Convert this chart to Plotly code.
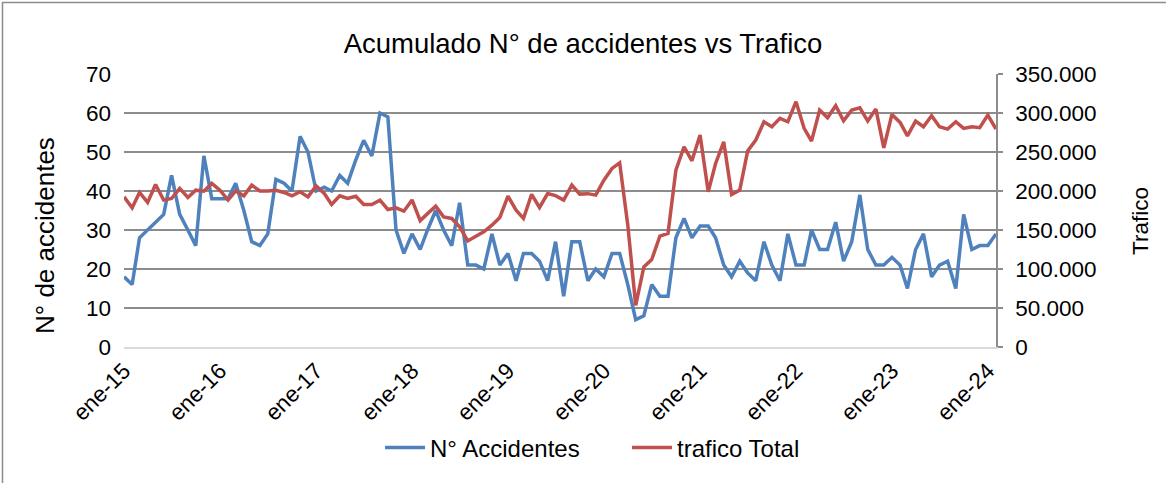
import plotly.graph_objects as go
import pandas as pd

# Monthly series, January 2015 through February 2024
meses = pd.date_range("2015-01-01", "2024-02-01", freq="MS").strftime("%Y-%m-%d").tolist()

accidentes = [
    18, 16, 28, 30, 32, 34, 44, 34, 30, 26,
    49, 38, 38, 38, 42, 35, 27, 26, 29, 43,
    42, 40, 54, 50, 40, 41, 40, 44, 42, 48,
    53, 49, 60, 59, 30, 24, 29, 25, 30, 35,
    30, 26, 37, 21, 21, 20, 29, 21, 24, 17,
    24, 24, 22, 17, 27, 13, 27, 27, 17, 20,
    18, 24, 24, 16, 7, 8, 16, 13, 13, 28,
    33, 28, 31, 31, 28, 21, 18, 22, 19, 17,
    27, 21, 17, 29, 21, 21, 30, 25, 25, 32,
    22, 27, 39, 25, 21, 21, 23, 21, 15, 25,
    29, 18, 21, 22, 15, 34, 25, 26, 26, 29,
]

trafico = [
    192500, 178400, 198200, 185300, 208400, 188300, 190400, 203300, 191700, 201100,
    199800, 209700, 201000, 188300, 200000, 193800, 207500, 200000, 200000, 201000,
    198100, 193800, 199000, 192500, 206600, 196800, 182700, 193800, 190400, 193300,
    182700, 182700, 188200, 176300, 178400, 174100, 188500, 162000, 171000, 180500,
    166800, 164800, 154000, 136000, 142100, 147600, 156200, 166100, 193400, 175400,
    164800, 195600, 178900, 196800, 194000, 188300, 207500, 196000, 196600, 194700,
    213900, 228900, 236100, 156200, 53500, 102700, 112100, 142100, 145500, 226800,
    256700, 238700, 271700, 198900, 235300, 263100, 195600, 201100, 251200, 265300,
    288800, 282400, 293100, 288800, 314500, 280300, 264000, 303700, 293900, 309300,
    290000, 303700, 306700, 289700, 305000, 255400, 298200, 287900, 270800, 289700,
    282400, 296500, 282400, 279400, 288800, 280300, 282400, 281100, 297400, 279400,
]

ticks_x = [f"{a}-01-01" for a in range(2015, 2025)]
etiquetas_x = [f"ene-{a % 100:02d}" for a in range(2015, 2025)]

FONT = "Liberation Sans, Arial, sans-serif"
GRID = "#8c8c8c"
TICK_SIZE = 22.5

# plot area in pixels: x 124..996, y 74..347
L, R, T, B = 124, 170, 74, 136
W, H = 1166 - L - R, 483 - T - B


def px_x(x):
    return (x - L) / W


def px_y(y):
    return (483 - B - y) / H


fig = go.Figure()
fig.add_trace(go.Scatter(
    x=meses, y=accidentes, name="N° Accidentes", mode="lines",
    line=dict(color="#4F81BD", width=3.5),
))
fig.add_trace(go.Scatter(
    x=meses, y=trafico, name="trafico Total", mode="lines", yaxis="y2",
    line=dict(color="#C0504D", width=3.5),
))

fig.update_layout(
    width=1166, height=483,
    margin=dict(l=L, r=R, t=T, b=B, autoexpand=False),
    paper_bgcolor="white", plot_bgcolor="white",
    font=dict(family=FONT, size=TICK_SIZE, color="black"),
    separators=",.",
    title=dict(text="Acumulado N° de accidentes vs Trafico", x=0.5, xref="container",
               y=1 - 43 / 483, yref="container", xanchor="center", yanchor="middle",
               font=dict(size=27.5, color="black")),
    xaxis=dict(
        type="date", range=[meses[0], meses[-1]], automargin=False,
        tickmode="array", tickvals=ticks_x, ticktext=etiquetas_x, tickangle=-45,
        showgrid=False, zeroline=False, showline=True, linecolor="#d9d9d9", linewidth=1.5,
        ticks="", tickfont=dict(size=TICK_SIZE),
    ),
    yaxis=dict(
        range=[0, 70], dtick=10, showgrid=True, gridcolor=GRID, gridwidth=1.5,
        zeroline=False, showline=False, ticks="", automargin=False,
        ticklabelstandoff=12, tickfont=dict(size=TICK_SIZE),
    ),
    yaxis2=dict(
        overlaying="y", side="right", range=[0, 350000], dtick=50000, tickformat=",d",
        showgrid=False, zeroline=False, showline=True, linecolor=GRID, linewidth=1.5,
        ticks="outside", ticklen=5, tickcolor=GRID, tickwidth=1.5, automargin=False,
        ticklabelstandoff=8, tickfont=dict(size=TICK_SIZE),
    ),
    legend=dict(orientation="h", x=px_x(627), xanchor="center",
                y=px_y(448), yanchor="middle", font=dict(size=24),
                entrywidth=192, itemwidth=40),
    annotations=[
        dict(text="N° de accidentes", xref="paper", yref="paper", x=px_x(45), y=px_y(236),
             xanchor="center", yanchor="middle", textangle=-90, showarrow=False,
             font=dict(size=26)),
        dict(text="Trafico", xref="paper", yref="paper", x=px_x(1140), y=px_y(221),
             xanchor="center", yanchor="middle", textangle=-90, showarrow=False,
             font=dict(size=22.5)),
    ],
    shapes=[dict(type="rect", xref="paper", yref="paper",
                 x0=px_x(2.5), x1=px_x(1200), y0=px_y(520), y1=px_y(2.5),
                 line=dict(color="#8c8c8c", width=1.5), fillcolor="rgba(0,0,0,0)", layer="below")],
)

fig.write_html("out.html")
